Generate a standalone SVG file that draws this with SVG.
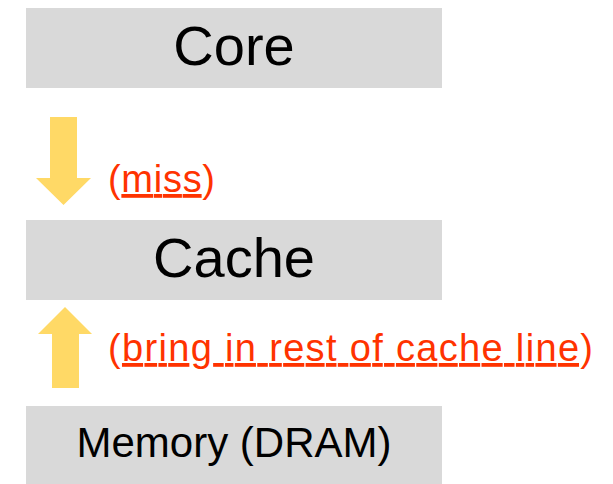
<svg xmlns="http://www.w3.org/2000/svg" width="613" height="484" viewBox="0 0 613 484">
<style>
.box{fill:#D9D9D9}
.lbl{font-family:"Liberation Sans",Arial,sans-serif;fill:#000;text-anchor:middle}
.note{font-family:"Liberation Sans",Arial,sans-serif;fill:#FF3300;font-size:38px}
.u{text-decoration:underline}
.arrow{fill:#FFD966}
</style>
<rect width="613" height="484" fill="#fff"/>
<g id="core">
<rect class="box" x="26" y="8" width="416" height="80"/>
<text class="lbl" x="234" y="65" font-size="56">Core</text>
</g>
<g id="cache">
<rect class="box" x="26" y="220" width="416" height="80"/>
<text class="lbl" x="234" y="277" font-size="56">Cache</text>
</g>
<g id="memory">
<rect class="box" x="26" y="406" width="416" height="78"/>
<text class="lbl" x="234" y="457" font-size="42">Memory (DRAM)</text>
</g>
<g id="connectors">
<polygon class="arrow" points="50,117 77,117 77,178 91,178 63.5,205 36,178 50,178"/>
<polygon class="arrow" points="65,307 92,334 79,334 79,388 52,388 52,334 38,334"/>
<text class="note" x="108" y="192" textLength="107">(<tspan class="u">miss</tspan>)</text>
<text class="note" x="108" y="361" textLength="485">(<tspan class="u">bring in rest of cache line</tspan>)</text>
</g>
</svg>
